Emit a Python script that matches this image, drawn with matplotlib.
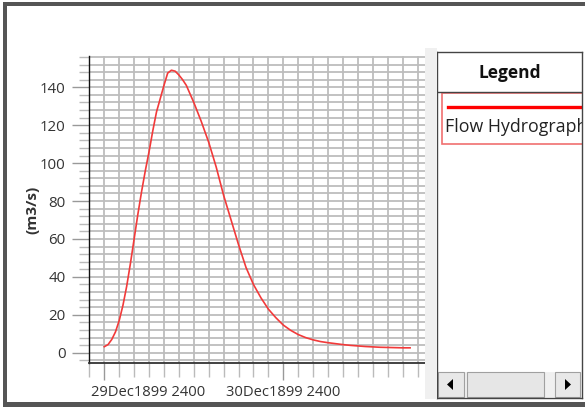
import matplotlib
matplotlib.use("Agg")
import matplotlib.pyplot as plt
from matplotlib.patches import Rectangle, Polygon
from matplotlib.transforms import ScaledTranslation
import numpy as np

plt.rcParams['font.family'] = ['Open Sans', 'DejaVu Sans']

# hours after 29Dec1899 2400, flow in m3/s
hours = [0, 0.5, 1, 1.5, 2, 2.5, 3, 3.5, 4, 4.5, 5, 5.5, 6, 6.5, 7, 7.5, 8, 8.5, 9, 9.5,
         10, 10.5, 11, 12, 13, 14, 15, 16, 17, 18, 19, 20,
         21, 22, 23, 24, 25, 26, 27, 28, 29, 30, 31, 32, 33, 34, 35, 36, 37, 38, 39, 40, 41]
flow = [3.2, 4.3, 7, 11, 17, 25, 35, 47, 60, 73, 85, 96, 106, 117, 127, 134, 141, 147.5, 149, 148.5,
        146.5, 144, 141, 132, 122, 111, 98, 83, 70, 57, 45, 36,
        29, 23, 18.5, 14.6, 11.8, 9.6, 8.0, 6.8, 5.9, 5.3, 4.8, 4.3, 3.9, 3.6, 3.3, 3.1, 2.9, 2.8, 2.7, 2.6, 2.6]

major_x = [0, 24]
major_x_labels = ['29Dec1899 2400', '30Dec1899 2400']
y_ticks = [0, 20, 40, 60, 80, 100, 120, 140]
series_name = 'Flow Hydrograph'
y_label = '(m3/s)'

W, H = 585, 409
fig = plt.figure(figsize=(W / 100, H / 100), dpi=100)
fig.patch.set_facecolor('white')


def fig_rect(x0, y0, x1, y1, **kw):
    # pixel box (top-left origin) -> figure fraction rectangle
    fig.add_artist(Rectangle((x0 / W, 1 - y1 / H), (x1 - x0) / W, (y1 - y0) / H,
                             transform=fig.transFigure, **kw))


# outer window frame
fig_rect(3, 2, 585, 6, facecolor='#555555', edgecolor='none')
fig_rect(3, 2, 7, 407, facecolor='#555555', edgecolor='none')
fig_rect(3, 402, 585, 407, facecolor='#555555', edgecolor='none')
# splitter band between chart and legend
fig_rect(425, 48, 437, 399, facecolor='#f0f0f0', edgecolor='none')

ax = fig.add_axes([89 / W, 1 - 363 / H, (425 - 89) / W, (363 - 56) / H])
ax.plot(hours, flow, color='#f23a3a', lw=1.2, zorder=3)
ax.set_xlim(-2.05, 43.0)
ax.set_ylim(-5.4, 156.5)

ax.set_xticks(major_x, major_x_labels)
ax.set_xticks(np.arange(-2, 43, 2), minor=True)
ax.set_yticks(y_ticks, [str(v) for v in y_ticks])
ax.set_yticks(np.arange(-4, 157, 4), minor=True)
ax.grid(which='both', color='#bdbdbd', lw=1.3)
ax.set_axisbelow(True)

ax.tick_params(axis='x', which='major', length=12, width=1, color='#999999',
               labelsize=10.6, labelcolor='#333333', pad=4)
ax.tick_params(axis='x', which='minor', length=10, width=1, color='#bbbbbb')
ax.tick_params(axis='y', which='major', length=12, width=1, color='#999999',
               labelsize=10.8, labelcolor='#333333', pad=5)
ax.tick_params(axis='y', which='minor', length=7, width=1, color='#bbbbbb')

for s in ['top', 'right']:
    ax.spines[s].set_visible(False)
ax.spines['left'].set_color('#111111')
ax.spines['left'].set_linewidth(1)
ax.spines['bottom'].set_color('#333333')
ax.spines['bottom'].set_linewidth(1.3)
ax.set_ylabel(y_label, fontsize=11, fontweight='bold', color='#333333', labelpad=0)

fig.canvas.draw()
first = ax.get_xticklabels()[0]
first.set_ha('left')
first.set_transform(first.get_transform() + ScaledTranslation(-13 / 100, 0, fig.dpi_scale_trans))

# legend panel
lg = fig.add_axes([437 / W, 1 - 398 / H, (582 - 437) / W, (398 - 52) / H])
lg.set_xlim(0, 145)
lg.set_ylim(346, 0)
lg.set_xticks([])
lg.set_yticks([])
for s in lg.spines.values():
    s.set_color('#444444')
    s.set_linewidth(1)
lg.text(73, 21, 'Legend', ha='center', va='center', fontsize=12.5, fontweight='bold', color='#111111')
lg.axhline(40, color='#444444', lw=1)
lg.add_patch(Rectangle((5, 41), 160, 51, facecolor='white', edgecolor='#f07070', lw=1.2))
lg.plot([11, 160], [54.5, 54.5], color='red', lw=2.4)
lg.text(8, 75, series_name, ha='left', va='center', fontsize=12.8, color='#222222', clip_on=True)

# horizontal scrollbar
lg.add_patch(Rectangle((1, 320), 143, 25, facecolor='#f0f0f0', edgecolor='none'))
lg.add_patch(Rectangle((1, 320), 26, 25, facecolor='#e8e8e8', edgecolor='#a0a0a0', lw=0.8))
lg.add_patch(Rectangle((30, 320), 77, 25, facecolor='#e6e6e6', edgecolor='#a0a0a0', lw=0.8))
lg.add_patch(Rectangle((118, 320), 25, 25, facecolor='#e8e8e8', edgecolor='#a0a0a0', lw=0.8))
lg.add_patch(Polygon([(10, 332.5), (16, 327), (16, 338)], closed=True, facecolor='black'))
lg.add_patch(Polygon([(134, 332.5), (128, 327), (128, 338)], closed=True, facecolor='black'))

fig.savefig('out.png', dpi=100)
